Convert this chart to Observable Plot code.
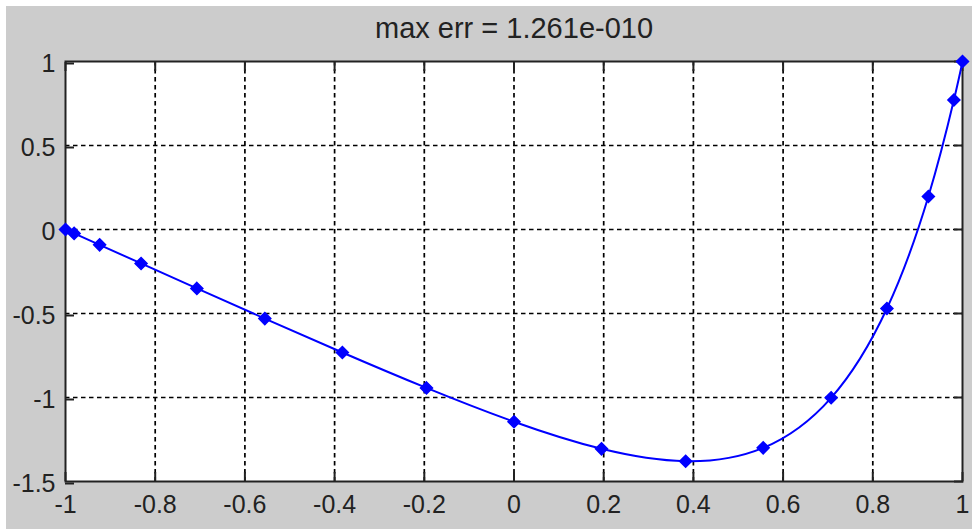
<!DOCTYPE html>
<html>
<head>
<meta charset="utf-8">
<script src="https://cdn.jsdelivr.net/npm/d3@7"></script>
<script src="https://cdn.jsdelivr.net/npm/@observablehq/plot@0.6"></script>
<style>
  html, body { margin: 0; padding: 0; background: #ffffff; }
  #chart { position: absolute; left: 6px; top: 6px; width: 966px; height: 523px; background: #cccccc; }
  #chart svg { background: #cccccc; display: block; }
</style>
</head>
<body>
<div id="chart"></div>
<script>
// Chebyshev grid points x_j = cos(j*pi/16) and the computed solution u_j
const xPoints = [-1, -0.9808, -0.9239, -0.8315, -0.7071, -0.5556, -0.3827, -0.1951, 0,
                 0.1951, 0.3827, 0.5556, 0.7071, 0.8315, 0.9239, 0.9808, 1];
const uValues = [0, -0.0231, -0.0914, -0.2021, -0.3506, -0.5302, -0.7319, -0.9429, -1.1443,
                 -1.3056, -1.3793, -1.2998, -1.0018, -0.4702, 0.1961, 0.7707, 1];

const xTicks = [-1, -0.8, -0.6, -0.4, -0.2, 0, 0.2, 0.4, 0.6, 0.8, 1];
const yTicks = [-1.5, -1, -0.5, 0, 0.5, 1];
const xTickLabels = ["-1", "-0.8", "-0.6", "-0.4", "-0.2", "0", "0.2", "0.4", "0.6", "0.8", "1"];
const yTickLabels = ["-1.5", "-1", "-0.5", "0", "0.5", "1"];
const titleText = "max err = 1.261e-010";

const points = xPoints.map((x, i) => ({x, u: uValues[i]}));
const inner = xTicks.slice(1, -1);
const innerY = yTicks.slice(1, -1);

const font = "'Liberation Sans', Arial, Helvetica, sans-serif";
const axisColor = "#222222";
const gridStyle = {stroke: "black", strokeOpacity: 1, strokeWidth: 1.7, strokeDasharray: "4.5,3.5"};

const chart = Plot.plot({
  width: 966,
  height: 523,
  marginLeft: 59,
  marginRight: 10,
  marginTop: 55,
  marginBottom: 48,
  style: {fontFamily: font, fontSize: "25px", color: axisColor, background: "#cccccc"},
  x: {domain: [-1, 1]},
  y: {domain: [-1.5, 1]},
  marks: [
    Plot.frame({fill: "white", stroke: null}),
    Plot.gridX(inner, gridStyle),
    Plot.gridY(innerY, gridStyle),
    Plot.axisX(xTicks, {anchor: "bottom", tickSize: -9, tickPadding: 23, strokeWidth: 2,
      tickFormat: (d, i) => xTickLabels[i], label: null, fontSize: 25, stroke: axisColor}),
    Plot.axisX(xTicks, {anchor: "top", tickSize: -9, strokeWidth: 2, tickFormat: () => "", label: null, stroke: axisColor}),
    Plot.axisY(yTicks, {anchor: "left", tickSize: -9, tickPadding: 19, strokeWidth: 2, dy: 2,
      tickFormat: (d, i) => yTickLabels[i], label: null, fontSize: 25, stroke: axisColor}),
    Plot.axisY(yTicks, {anchor: "right", tickSize: -9, strokeWidth: 2, tickFormat: () => "", label: null, stroke: axisColor}),
    Plot.frame({stroke: axisColor, strokeWidth: 2}),
    Plot.line(points, {x: "x", y: "u", stroke: "#0000ff", strokeWidth: 2, curve: "natural"}),
    Plot.dot(points, {x: "x", y: "u", symbol: "diamond2", r: 5.4, fill: "#0000ff", stroke: "#0000ff"}),
    Plot.text([titleText], {text: d => d, frameAnchor: "top", dy: -33, fontSize: 29, fill: axisColor, lineAnchor: "middle"})
  ]
});

document.getElementById("chart").appendChild(chart);
</script>
</body>
</html>
